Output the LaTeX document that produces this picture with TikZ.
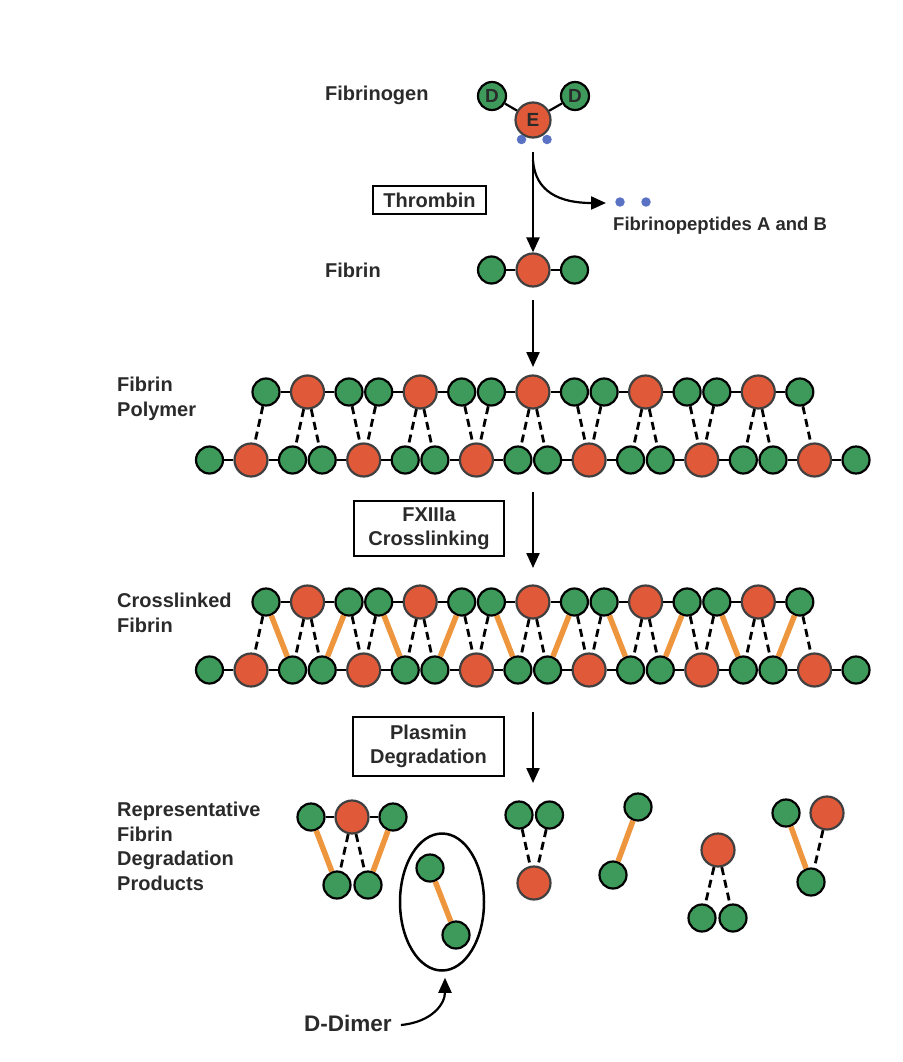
\documentclass[tikz,border=0pt]{standalone}
\usepackage{fontspec}
\setmainfont{Liberation Sans}
\usetikzlibrary{arrows.meta,shapes.geometric,calc}
\definecolor{fgreen}{HTML}{3D9A5B}
\definecolor{fred}{HTML}{E05A3A}
\definecolor{fblue}{HTML}{5A72C4}
\definecolor{forange}{HTML}{EE963E}
\definecolor{ftext}{HTML}{2A2A2A}
\newcommand\fibrows[4]{%
  % #1 prefix, #2 top y, #3 bottom y, #4 crosslinked (1) or not (0)
  \foreach \k in {0,...,4}{
    \node[rnode] (#1tR\k) at ({307.5+112.7*\k},#2) {};
    \node[gnode] (#1tGl\k) at ({266+112.7*\k},#2) {};
    \node[gnode] (#1tGr\k) at ({349+112.7*\k},#2) {};
    \draw[bond] (#1tGl\k) -- (#1tR\k) -- (#1tGr\k);
  }
  \foreach \k in {0,...,5}{
    \node[rnode] (#1bR\k) at ({251+112.7*\k},#3) {};
    \node[gnode] (#1bGl\k) at ({209.5+112.7*\k},#3) {};
    \node[gnode] (#1bGr\k) at ({292.5+112.7*\k},#3) {};
    \draw[bond] (#1bGl\k) -- (#1bR\k) -- (#1bGr\k);
  }
  \foreach \k [count=\kk from 1] in {0,...,4}{
    \draw[hbond] (#1tGl\k) -- (#1bR\k);
    \draw[hbond] (#1tGr\k) -- (#1bR\kk);
    \draw[hbond] (#1tR\k) -- (#1bGr\k);
    \draw[hbond] (#1tR\k) -- (#1bGl\kk);
    \ifnum#4=1
      \draw[xlink] (#1tGl\k) -- (#1bGr\k);
      \draw[xlink] (#1tGr\k) -- (#1bGl\kk);
    \fi
  }
}
\begin{document}
\begin{tikzpicture}[x=1pt,y=-1pt,
  every node/.style={text=ftext},
  gnode/.style={circle,draw=black,fill=fgreen,line width=2.2pt,minimum size=27pt,inner sep=0pt},
  rnode/.style={circle,draw=black!75,fill=fred,line width=2.2pt,minimum size=33pt,inner sep=0pt},
  bond/.style={line width=2.2pt,black},
  hbond/.style={line width=2.8pt,black,dash pattern=on 8pt off 5pt},
  xlink/.style={line width=5.5pt,forange},
  dot/.style={circle,fill=fblue,minimum size=9.5pt,inner sep=0pt},
  lbl/.style={font=\fontsize{20}{24.5}\selectfont\bfseries,inner sep=0pt,align=left},
  boxnode/.style={draw=black,line width=2.5pt,font=\fontsize{20}{24.5}\selectfont\bfseries,align=center,inner sep=0pt},
  flow/.style={-{Triangle[length=15pt,width=13pt]},line width=2.2pt,black},
  letter/.style={font=\fontsize{19}{20}\selectfont\bfseries,text=ftext}
]
\useasboundingbox (0,0) rectangle (902,1062);

% ---- Fibrinogen ----
\node[lbl,anchor=west] (lfibrinogen) at (325,95) {Fibrinogen};
\node[rnode,minimum size=35pt,letter] (E) at (533,120) {E};
\node[gnode,minimum size=28pt,letter] (D1) at (492,96) {D};
\node[gnode,minimum size=28pt,letter] (D2) at (575,96) {D};
\draw[bond] (D1) -- (E) -- (D2);
\node[dot] (fpA) at (521.5,139.5) {};
\node[dot] (fpB) at (547,139.5) {};

% thrombin step
\coordinate (a1s) at (533,152);
\coordinate (a1b) at (533,160);
\node[boxnode,minimum width=113pt,minimum height=28pt] (thrombin) at (429.5,200) {Thrombin};
\node[dot] (fp1) at (620,202) {};
\node[dot] (fp2) at (646,202) {};
\coordinate (curvetip) at (606,203);
\draw[flow] (a1b) .. controls (535,192) and (560,203) .. (curvetip);
\node[lbl,anchor=west,font=\fontsize{18.5}{22}\selectfont\bfseries] (lfp) at (613,226) {Fibrinopeptides A and B};

% ---- Fibrin ----
\node[lbl,anchor=west] (lfibrin) at (325,270) {Fibrin};
\node[rnode] (fR) at (533,270) {};
\node[gnode] (fG1) at (491.5,270) {};
\node[gnode] (fG2) at (574.5,270) {};
\draw[bond] (fG1) -- (fR) -- (fG2);
\draw[flow] (a1s) -- (fR);

\coordinate (a2s) at (533,300);
\coordinate (a2e) at (533,367);
\draw[flow] (a2s) -- (a2e);

% ---- Fibrin polymer ----
\node[lbl,anchor=north west] (lpoly) at (117,377) {Fibrin\\Polymer};
\fibrows{p}{392}{460}{0}

% FXIIIa step
\node[boxnode,minimum width=150pt,minimum height=55pt] (fxiii) at (429,528.5) {FXIIIa\\Crosslinking};
\coordinate (a3s) at (533,492);
\coordinate (a3e) at (533,568);
\draw[flow] (a3s) -- (a3e);

% ---- Crosslinked fibrin ----
\node[lbl,anchor=north west] (lcross) at (117,593) {Crosslinked\\Fibrin};
\fibrows{c}{602}{670}{1}

% Plasmin step
\node[boxnode,minimum width=151pt,minimum height=59pt] (plasmin) at (428.5,746.5) {Plasmin\\Degradation};
\coordinate (a4s) at (533,712);
\coordinate (a4e) at (533,783);
\draw[flow] (a4s) -- (a4e);

% ---- Degradation products ----
\node[lbl,anchor=north west] (lprod) at (117,802) {Representative\\Fibrin\\Degradation\\Products};

% group 1
\node[gnode] (g1a) at (311,817) {};
\node[rnode] (g1r) at (352,817) {};
\node[gnode] (g1b) at (393,817) {};
\node[gnode] (g1c) at (337,885) {};
\node[gnode] (g1d) at (368,885) {};
\draw[bond] (g1a) -- (g1r) -- (g1b);
\draw[xlink] (g1a) -- (g1c);
\draw[xlink] (g1b) -- (g1d);
\draw[hbond] (g1r) -- (g1c);
\draw[hbond] (g1r) -- (g1d);

% D-dimer
\node[ellipse,draw=black,line width=2.5pt,minimum width=84pt,minimum height=137pt,inner sep=0pt] (dimer) at (442,902) {};
\node[gnode] (g2a) at (430,868) {};
\node[gnode] (g2b) at (456,935) {};
\draw[xlink] (g2a) -- (g2b);
\node[lbl,anchor=west,font=\fontsize{22.5}{26}\selectfont\bfseries] (ldimer) at (304,1023) {D-Dimer};
\coordinate (dtip) at ($(dimer.south)+(3,6)$);
\draw[flow] ($(ldimer.east)+(9,2)$) .. controls (432,1022) and (445,1004) .. (dtip);

% group 3
\node[gnode] (g3a) at (519,815) {};
\node[gnode] (g3b) at (549.5,815) {};
\node[rnode] (g3r) at (534,883) {};
\draw[hbond] (g3a) -- (g3r);
\draw[hbond] (g3b) -- (g3r);

% group 4
\node[gnode] (g4a) at (638,807) {};
\node[gnode] (g4b) at (613,875) {};
\draw[xlink] (g4a) -- (g4b);

% group 5
\node[rnode] (g5r) at (718,850) {};
\node[gnode] (g5a) at (702,918) {};
\node[gnode] (g5b) at (733,918) {};
\draw[hbond] (g5r) -- (g5a);
\draw[hbond] (g5r) -- (g5b);

% group 6
\node[gnode] (g6a) at (786,813) {};
\node[rnode] (g6r) at (827,813) {};
\node[gnode] (g6b) at (811,882) {};
\draw[xlink] (g6a) -- (g6b);
\draw[hbond] (g6r) -- (g6b);
\end{tikzpicture}
\end{document}
